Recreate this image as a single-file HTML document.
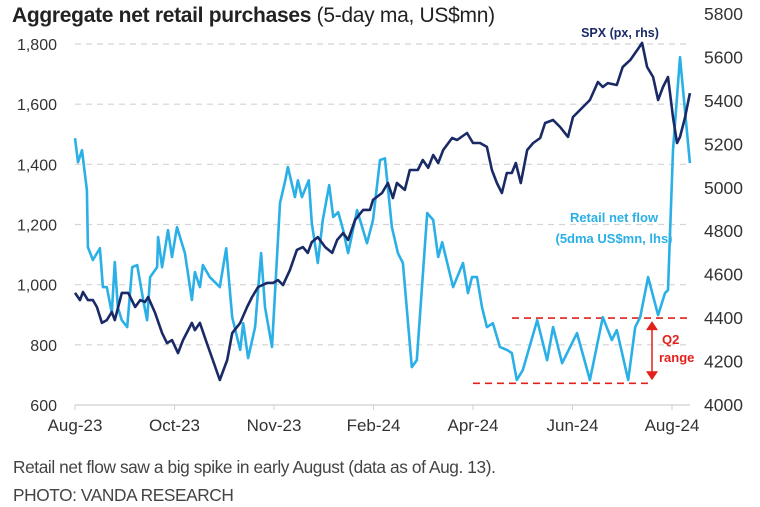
<!DOCTYPE html>
<html><head><meta charset="utf-8"><style>
body{margin:0;background:#fff;width:760px;height:507px;overflow:hidden;font-family:"Liberation Sans",sans-serif;}
svg{position:absolute;left:0;top:0}
.cap{position:absolute;left:13px;font-size:17.3px;color:#444;letter-spacing:-0.4px}
</style></head><body>
<svg id="chart" width="760" height="450" viewBox="0 0 760 450">
<text x="12" y="22" font-size="21" fill="#222" letter-spacing="-0.3"><tspan font-weight="bold">Aggregate net retail purchases</tspan> (5-day ma, US$mn)</text>
<g id="grid"></g><g id="axes"></g><g id="annot"></g><g id="series"></g>
<text x="620" y="37" font-size="12.5" font-weight="bold" fill="#1a2a66" text-anchor="middle">SPX (px, rhs)</text>
<text x="614" y="222" font-size="13" font-weight="bold" fill="#2ab0e6" text-anchor="middle">Retail net flow</text>
<text x="614" y="243" font-size="13" font-weight="bold" fill="#2ab0e6" text-anchor="middle">(5dma US$mn, lhs)</text>
</svg>
<div class="cap" style="top:457px">Retail net flow saw a big spike in early August (data as of Aug. 13).</div>
<div class="cap" style="top:485px">PHOTO: VANDA RESEARCH</div>
<script>
const leftTicks=[600,800,1000,1200,1400,1600,1800];
const rightTicks=[4000,4200,4400,4600,4800,5000,5200,5400,5600,5800];
const xLabels=["Aug-23","Oct-23","Nov-23","Feb-24","Apr-24","Jun-24","Aug-24"];
const xLabelMonths=[0,2,4,6,8,10,12];
const flowMonths=[0,.06,.14,.24,.26,.36,.50,.56,.64,.74,.80,.86,.94,1.05,1.15,1.25,1.37,1.45,1.51,1.65,1.67,1.75,1.87,1.95,2.05,2.21,2.35,2.41,2.51,2.57,2.71,2.91,3.04,3.16,3.32,3.38,3.48,3.62,3.74,3.82,3.96,4.12,4.22,4.28,4.42,4.48,4.56,4.70,4.76,4.88,4.98,5.11,5.19,5.29,5.39,5.49,5.67,5.87,5.99,6.13,6.23,6.37,6.49,6.59,6.77,6.87,7.08,7.20,7.30,7.38,7.60,7.80,7.90,7.98,8.08,8.18,8.28,8.40,8.54,8.68,8.78,8.88,9.00,9.29,9.49,9.61,9.79,10.09,10.35,10.61,10.79,10.89,11.12,11.26,11.36,11.52,11.72,11.86,11.92,12.02,12.16,12.36];
const flowValues=[1487,1407,1447,1314,1125,1082,1121,992,992,906,1075,925,882,859,1058,1065,949,882,1025,1058,1158,1058,1181,1092,1191,1105,949,1042,992,1065,1025,992,1121,892,783,872,756,859,1105,925,793,1271,1341,1391,1291,1347,1291,1347,1205,1072,1215,1331,1225,1241,1181,1105,1248,1138,1215,1414,1420,1191,1105,1072,726,749,1238,1215,1092,1141,992,1072,972,1025,1025,925,859,872,793,783,773,683,716,882,749,859,739,839,683,892,816,849,683,859,892,1025,899,972,982,1447,1756,1404];
const spxMonths=[0,.10,.16,.26,.36,.44,.54,.64,.74,.80,.94,1.07,1.21,1.31,1.41,1.47,1.61,1.75,1.85,1.95,2.07,2.17,2.35,2.41,2.51,2.65,2.77,2.91,3.06,3.16,3.32,3.46,3.56,3.68,3.86,3.98,4.08,4.18,4.32,4.46,4.58,4.68,4.76,4.88,5.03,5.17,5.27,5.39,5.49,5.63,5.79,5.93,5.99,6.17,6.29,6.39,6.47,6.63,6.73,6.89,6.99,7.10,7.20,7.30,7.40,7.58,7.68,7.88,8.00,8.14,8.28,8.38,8.48,8.58,8.68,8.78,8.86,8.96,9.09,9.21,9.35,9.45,9.61,9.75,9.91,10.01,10.15,10.35,10.51,10.61,10.71,10.89,11.01,11.16,11.30,11.40,11.50,11.62,11.72,11.82,11.92,12.02,12.10,12.16,12.26,12.36];
const spxValues=[4516,4483,4520,4483,4483,4451,4378,4391,4428,4391,4516,4516,4451,4483,4474,4497,4424,4331,4285,4299,4239,4299,4378,4345,4378,4285,4207,4115,4207,4331,4378,4451,4497,4543,4562,4562,4575,4552,4621,4714,4727,4700,4750,4773,4727,4700,4760,4792,4760,4852,4898,4898,4944,4976,5022,4953,5022,4990,5082,5082,5128,5092,5151,5114,5174,5229,5220,5252,5206,5206,5188,5082,5022,4976,5068,5068,5114,5022,5174,5206,5229,5298,5312,5280,5234,5326,5358,5404,5487,5464,5482,5473,5556,5588,5634,5667,5556,5510,5404,5464,5510,5326,5206,5234,5321,5436];
const q2High=4400, q2Low=4100;

const NS="http://www.w3.org/2000/svg";
const X0=75,X1=672,YB=405;
const xs=m=>X0+(X1-X0)*m/12;
const yl=v=>YB-(v-600)*(YB-44)/1200;
const yr=v=>YB-(v-4000)*(YB-14)/1800;
function mk(tag,attrs,parent){const e=document.createElementNS(NS,tag);for(const k in attrs)e.setAttribute(k,attrs[k]);parent.appendChild(e);return e;}
const grid=document.getElementById('grid'),axes=document.getElementById('axes'),ser=document.getElementById('series'),ann=document.getElementById('annot');
leftTicks.forEach(t=>{
  if(t>600){const g=mk('line',{x1:X0,x2:690,y1:yl(t),y2:yl(t),stroke:'#d4d4d4','stroke-width':1.2,'stroke-dasharray':'6,5'},grid);
  
  }
  const l=mk('text',{x:57,y:yl(t)+6,'font-size':16,fill:'#333','text-anchor':'end'},axes);l.textContent=t.toLocaleString('en-US');
  
  
});
rightTicks.forEach(t=>{
  const l=mk('text',{x:704,y:yr(t)+6,'font-size':17.5,fill:'#333'},axes);l.textContent=t;
  
  
});
const ax=mk('line',{x1:X0,x2:690,y1:YB,y2:YB,stroke:'#cfcfcf','stroke-width':1.2},axes);


xLabels.forEach((s,i)=>{
  const x=xs(xLabelMonths[i]);
  const tk=mk('line',{x1:x,x2:x,y1:YB,y2:YB+5,stroke:'#cfcfcf'},axes);
  
  
  const l=mk('text',{x:x,y:431,'font-size':17,fill:'#333','text-anchor':'middle'},axes);l.textContent=s;
  
  
});
function path(ms,vs,yf){return ms.map((m,i)=>(i?'L':'M')+xs(m).toFixed(1)+' '+yf(vs[i]).toFixed(1)).join(' ');}
const pf=mk('path',{d:path(flowMonths,flowValues,yl),fill:'none',stroke:'#2ab0e6','stroke-width':2.6,'stroke-linejoin':'round'},ser);


const ps=mk('path',{d:path(spxMonths,spxValues,yr),fill:'none',stroke:'#1a2a66','stroke-width':2.6,'stroke-linejoin':'round'},ser);


const r='#e3211c';
const h1=mk('line',{x1:512,x2:690,y1:yr(q2High),y2:yr(q2High),stroke:r,'stroke-width':1.6,'stroke-dasharray':'7,5'},ann);


const h2=mk('line',{x1:473,x2:652,y1:yr(q2Low),y2:yr(q2Low),stroke:r,'stroke-width':1.6,'stroke-dasharray':'7,5'},ann);


const ar=mk('line',{x1:652,x2:652,y1:yr(q2High)+10,y2:yr(q2Low)-10,stroke:r,'stroke-width':1.5},ann);


const t1=mk('polygon',{points:`646,${yr(q2High)+12} 658,${yr(q2High)+12} 652,${yr(q2High)+3}`,fill:r},ann);


const t2=mk('polygon',{points:`646,${yr(q2Low)-12} 658,${yr(q2Low)-12} 652,${yr(q2Low)-3}`,fill:r},ann);


const q=mk('text',{x:662,y:344,'font-size':13,'font-weight':'bold',fill:r},ann);q.textContent='Q2';


const q3=mk('text',{x:659,y:362,'font-size':13,'font-weight':'bold',fill:r},ann);q3.textContent='range';


</script>
</body></html>
